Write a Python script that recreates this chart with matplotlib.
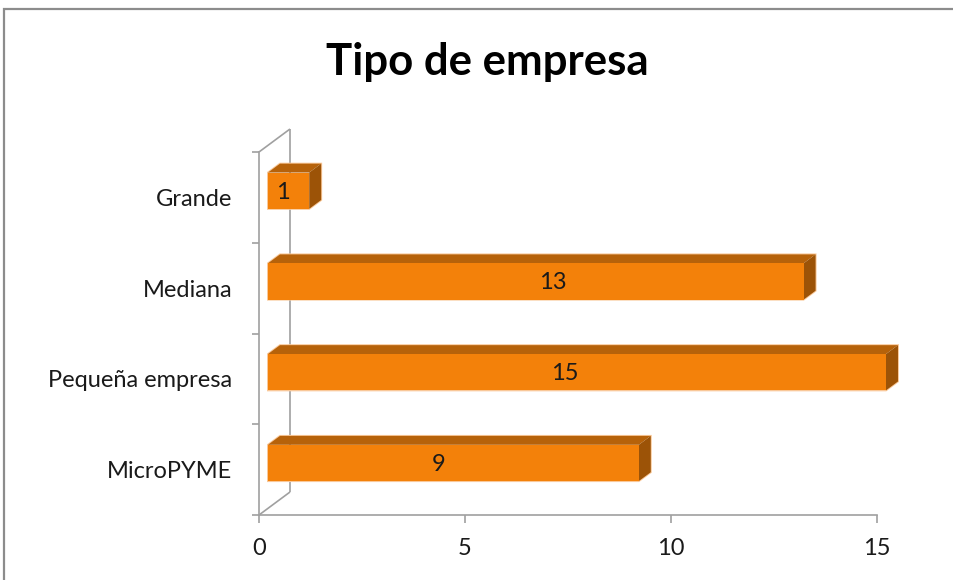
import matplotlib
matplotlib.use("Agg")
import matplotlib.pyplot as plt
from matplotlib.patches import Polygon, Rectangle

# Data
categories = ["MicroPYME", "Pequeña empresa", "Mediana", "Grande"]
values = [9, 15, 13, 1]
x_ticks = [0, 5, 10, 15]
title = "Tipo de empresa"

# where each value label sits along its bar (data units)
label_pos = [4.37, 7.43, 7.14, 0.58]

FONT = "Lato"
plt.rcParams["font.family"] = [FONT, "DejaVu Sans"]

FRONT = "#F3810A"
TOP = "#B6620A"
SIDE = "#9C5307"
EDGE = "#F9C899"
WALL = "#A0A0A0"
TEXT = "#1A1A1A"
FS = 17

fig = plt.figure(figsize=(9.54, 5.80), dpi=100)

# outer chart border
fig.patches.append(Rectangle((4 / 954, -0.1), 1.2, 1 - 9 / 580 + 0.1,
                             transform=fig.transFigure, fill=False,
                             edgecolor="#8C8C8C", linewidth=1.6))

ax = fig.add_axes([259 / 954, 65 / 580, 618 / 954, 363 / 580])
ax.set_xlim(0, 15)
ax.set_ylim(-0.5, 3.5)
ax.patch.set_alpha(0)

for s in ("top", "right"):
    ax.spines[s].set_visible(False)
for s in ("left", "bottom"):
    ax.spines[s].set_color(WALL)
    ax.spines[s].set_linewidth(1.2)

# depth of the wall in data units
DX, DY = 0.7524, 0.2534
wall_kw = dict(color=WALL, lw=1.2, clip_on=False, zorder=1, solid_capstyle="butt")
ax.plot([DX, DX], [-0.5 + DY, 3.5 + DY], **wall_kw)
ax.plot([0, DX], [3.5, 3.5 + DY], **wall_kw)
ax.plot([0, DX], [-0.5, -0.5 + DY], **wall_kw)

# bars with depth
f0 = 0.29      # front face inset along depth
bd = 0.387     # bar depth fraction
half = 0.2     # half bar thickness
ox, oy = f0 * DX, f0 * DY
bx, by = bd * DX, bd * DY
for i, v in enumerate(values):
    x0, x1 = ox, v + ox
    y0, y1 = i - half + oy, i + half + oy
    outline = [(x0, y0), (x1, y0), (x1 + bx, y0 + by), (x1 + bx, y1 + by),
               (x0 + bx, y1 + by), (x0, y1)]
    ax.add_patch(Polygon(outline, closed=True, facecolor="none", edgecolor=EDGE,
                         lw=1.4, clip_on=False, zorder=3))
    ax.add_patch(Polygon([(x0, y1), (x1, y1), (x1 + bx, y1 + by), (x0 + bx, y1 + by)],
                         closed=True, facecolor=TOP, edgecolor="none",
                         clip_on=False, zorder=4))
    ax.add_patch(Polygon([(x1, y0), (x1, y1), (x1 + bx, y1 + by), (x1 + bx, y0 + by)],
                         closed=True, facecolor=SIDE, edgecolor="none",
                         clip_on=False, zorder=4))
    ax.add_patch(Polygon([(x0, y0), (x1, y0), (x1, y1), (x0, y1)],
                         closed=True, facecolor=FRONT, edgecolor="none",
                         clip_on=False, zorder=5))
    ax.text(label_pos[i], i + oy - 0.015, str(v), ha="center", va="center",
            fontsize=FS, color=TEXT, zorder=6)

# axes ticks
ax.set_xticks(x_ticks)
ax.set_xticklabels([str(t) for t in x_ticks])
ax.tick_params(axis="x", length=6, width=1.2, color=WALL, pad=10.5,
               labelsize=FS, labelcolor=TEXT)
ax.set_yticks(range(len(categories)))
ax.set_yticklabels(categories)
ax.set_yticks([k - 0.5 for k in range(len(categories) + 1)], minor=True)
ax.tick_params(axis="y", which="major", length=0, pad=19, labelsize=FS,
               labelcolor=TEXT)
ax.tick_params(axis="y", which="minor", length=5, width=1.2, color=WALL)

fig.text(487 / 954, 1 - 62 / 580, title, ha="center", va="center",
         fontsize=31.5, fontweight="bold", color="black")

fig.savefig("out.png", dpi=100)
